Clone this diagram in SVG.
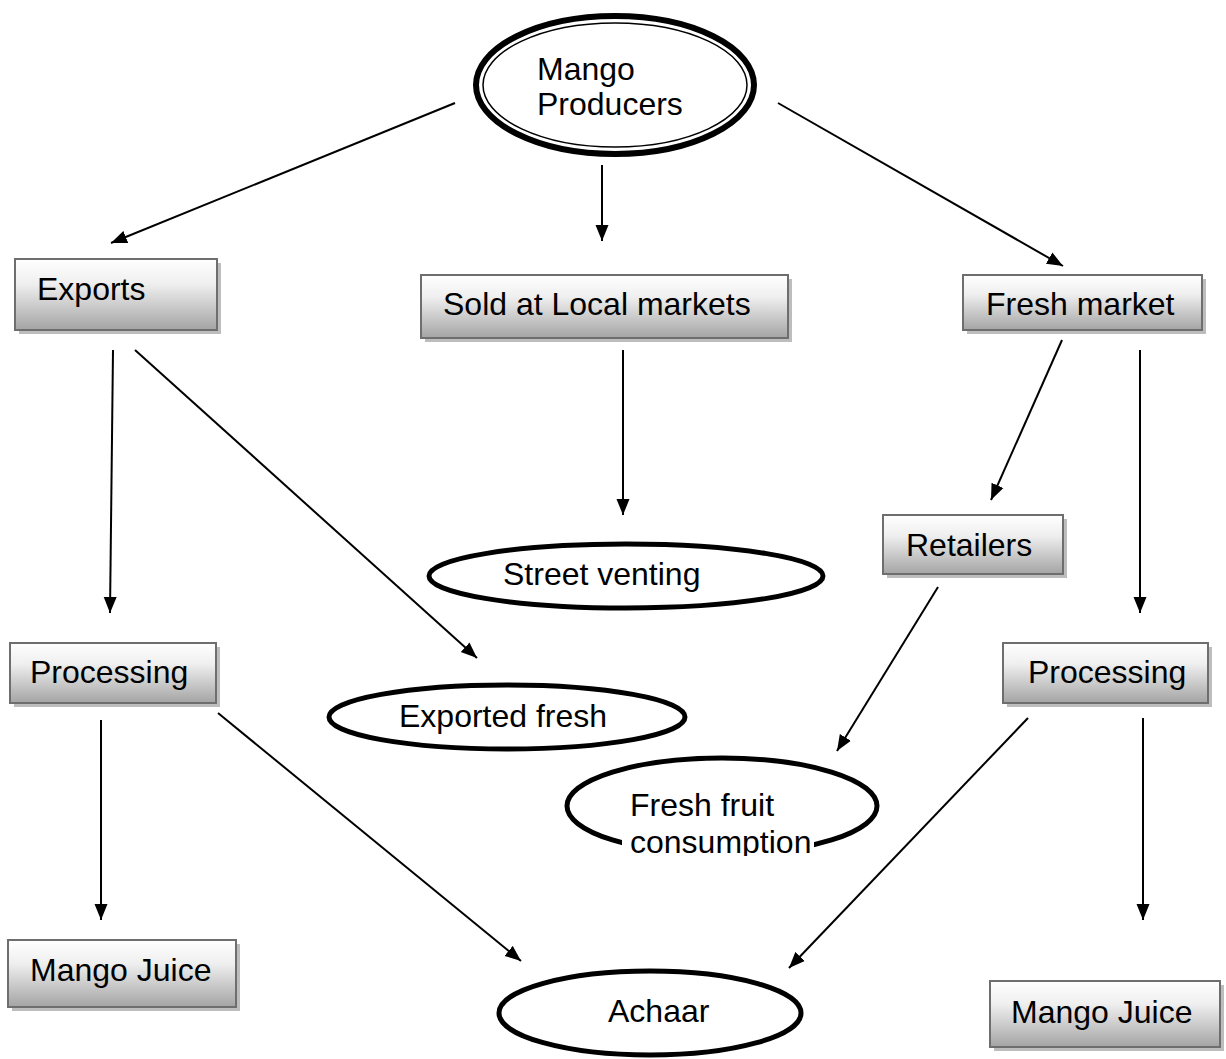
<svg xmlns="http://www.w3.org/2000/svg" width="1226" height="1059" viewBox="0 0 1226 1059">
<style>
.t{font-family:"Liberation Sans",Arial,sans-serif;font-size:32px;fill:#000}
.box{fill:url(#g);stroke:#6e6e6e;stroke-width:2}
.sh{fill:#bdbdbd}
.ell{fill:#fff;stroke:#000;stroke-width:5}
.c line{stroke:#000;stroke-width:2;marker-end:url(#ah)}
</style>
<defs>
<linearGradient id="g" x1="0" y1="0" x2="0" y2="1">
<stop offset="0" stop-color="#ffffff"/>
<stop offset="0.35" stop-color="#efefef"/>
<stop offset="1" stop-color="#a4a4a4"/>
</linearGradient>
<marker id="ah" markerUnits="userSpaceOnUse" markerWidth="18" markerHeight="14" refX="16" refY="7" orient="auto">
<path d="M0,0.5 L16,7 L0,13.5 z" fill="#000"/>
</marker>
<clipPath id="clipF"><rect x="560" y="740" width="340" height="116"/></clipPath>
</defs>
<rect width="1226" height="1059" fill="#fff"/>
<g class="c">
<line x1="455" y1="103" x2="111" y2="243"/>
<line x1="602" y1="165" x2="602" y2="241"/>
<line x1="778" y1="103" x2="1063" y2="266"/>
<line x1="113" y1="350" x2="110" y2="613"/>
<line x1="135" y1="350" x2="477" y2="658"/>
<line x1="623" y1="350" x2="623" y2="515"/>
<line x1="1062" y1="340" x2="991" y2="500"/>
<line x1="1140" y1="350" x2="1140" y2="613"/>
<line x1="938" y1="587" x2="837" y2="751"/>
<line x1="101" y1="720" x2="101" y2="920"/>
<line x1="218" y1="713" x2="521" y2="961"/>
<line x1="1028" y1="718" x2="789" y2="968"/>
<line x1="1143" y1="718" x2="1143" y2="920"/>
</g>
<g id="producers">
<ellipse cx="615" cy="85" rx="139" ry="69" fill="#fff" stroke="#000" stroke-width="6"/>
<ellipse cx="615" cy="85" rx="132" ry="62" fill="none" stroke="#000" stroke-width="1.5"/>
<text class="t" x="537" y="80">Mango</text>
<text class="t" x="537" y="115">Producers</text>
</g>
<g id="exports">
<rect class="sh" x="19" y="263" width="202" height="71"/>
<rect class="box" x="15" y="259" width="202" height="71"/>
<text class="t" x="37" y="300">Exports</text>
</g>
<g id="local">
<rect class="sh" x="425" y="279" width="367" height="63"/>
<rect class="box" x="421" y="275" width="367" height="63"/>
<text class="t" x="443" y="315">Sold at Local markets</text>
</g>
<g id="fresh-market">
<rect class="sh" x="967" y="279" width="239" height="55"/>
<rect class="box" x="963" y="275" width="239" height="55"/>
<text class="t" x="986" y="315">Fresh market</text>
</g>
<g id="retailers">
<rect class="sh" x="887" y="519" width="180" height="59"/>
<rect class="box" x="883" y="515" width="180" height="59"/>
<text class="t" x="906" y="556">Retailers</text>
</g>
<g id="street">
<ellipse class="ell" cx="626" cy="576" rx="197" ry="32"/>
<text class="t" x="503" y="585">Street venting</text>
</g>
<g id="processing-left">
<rect class="sh" x="14" y="647" width="206" height="60"/>
<rect class="box" x="10" y="643" width="206" height="60"/>
<text class="t" x="30" y="683">Processing</text>
</g>
<g id="processing-right">
<rect class="sh" x="1007" y="647" width="205" height="60"/>
<rect class="box" x="1003" y="643" width="205" height="60"/>
<text class="t" x="1028" y="683">Processing</text>
</g>
<g id="exported-fresh">
<ellipse class="ell" cx="507" cy="717" rx="178" ry="32"/>
<text class="t" x="399" y="727">Exported fresh</text>
</g>
<g id="fresh-fruit">
<ellipse class="ell" cx="722" cy="806" rx="155" ry="48"/>
<rect x="622" y="788" width="192" height="69" fill="#fff"/>
<g clip-path="url(#clipF)">
<text class="t" x="630" y="816">Fresh fruit</text>
<text class="t" x="630" y="853">consumption</text>
</g>
</g>
<g id="juice-left">
<rect class="sh" x="12" y="944" width="228" height="67"/>
<rect class="box" x="8" y="940" width="228" height="67"/>
<text class="t" x="30" y="981">Mango Juice</text>
</g>
<g id="juice-right">
<rect class="sh" x="994" y="985" width="230" height="66"/>
<rect class="box" x="990" y="981" width="230" height="66"/>
<text class="t" x="1011" y="1023">Mango Juice</text>
</g>
<g id="achaar">
<ellipse class="ell" cx="650" cy="1013" rx="151" ry="42"/>
<text class="t" x="608" y="1022">Achaar</text>
</g>
</svg>
